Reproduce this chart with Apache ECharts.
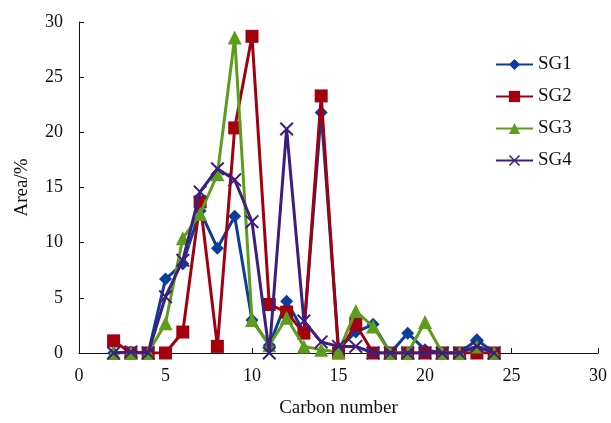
<!DOCTYPE html>
<html><head><meta charset="utf-8">
<script src="https://cdn.jsdelivr.net/npm/echarts@6/dist/echarts.min.js"></script>
<style>html,body{margin:0;padding:0;background:#fff}#c{width:611px;height:423px}</style>
</head><body><div id="c"></div>
<script>
const carbon = [2,3,4,5,6,7,8,9,10,11,12,13,14,15,16,17,18,19,20,21,22,23,24];
const SG1 = [0,0.1,0,6.7,8.1,12.9,9.5,12.4,3.0,0.7,4.7,1.9,21.8,0.4,1.9,2.6,0,1.8,0.3,0,0,1.2,0];
const SG2 = [1.1,0,0,0,1.9,13.7,0.6,20.4,28.7,4.4,3.7,1.8,23.3,0,2.6,0,0,0,0,0,0,0,0];
const SG3 = [0,0,0,2.7,10.4,12.6,16.2,28.6,3.0,0.7,3.2,0.6,0.3,0.1,3.8,2.4,0,0,2.8,0,0,0.6,0];
const SG4 = [0,0.1,0,5.1,8.4,14.6,16.7,15.7,11.9,0,20.3,2.9,1.0,0.6,0.6,0,0,0,0,0,0,0.6,0];
const names = ['SG1','SG2','SG3','SG4'];
const values = [SG1,SG2,SG3,SG4];
const colors = ['#0b3d9c','#a3000f','#5c9e1c','#3c1f7c'];
const xPath = 'path://M0,1L1,0L5,4L9,0L10,1L6,5L10,9L9,10L5,6L1,10L0,9L4,5Z';
const symbols = ['diamond','rect','triangle',xPath];
const sizes = [13,13,14,14];
const font = 'Liberation Serif';
const chart = echarts.init(document.getElementById('c'));
chart.setOption({
  animation:false,
  backgroundColor:'#fff',
  textStyle:{fontFamily:font},
  grid:{left:79,right:13,top:22,bottom:64},
  legend:{
    orient:'vertical', left:490, top:50, itemGap:13, itemWidth:37, itemHeight:14,
    textStyle:{fontFamily:font,fontSize:19,color:'#111'},
    data:names
  },
  xAxis:{
    type:'value', min:0, max:30, interval:5,
    name:'Carbon number', nameLocation:'middle', nameGap:46,
    nameTextStyle:{fontFamily:font,fontSize:19,color:'#111'},
    axisLine:{lineStyle:{color:'#111',width:1}},
    axisTick:{inside:true,length:5,lineStyle:{color:'#111'}},
    axisLabel:{fontFamily:font,fontSize:18,color:'#111',margin:14},
    splitLine:{show:false}
  },
  yAxis:{
    type:'value', min:0, max:30, interval:5,
    name:'Area/%', nameLocation:'middle', nameGap:47,
    nameTextStyle:{fontFamily:font,fontSize:19,color:'#111'},
    axisLine:{show:true,lineStyle:{color:'#111',width:1}},
    axisTick:{show:true,inside:true,length:5,lineStyle:{color:'#111'}},
    axisLabel:{fontFamily:font,fontSize:18,color:'#111',margin:16},
    splitLine:{show:false}
  },
  series: names.map((n,i)=>({
    name:n, type:'line',
    data: carbon.map((c,j)=>[c, values[i][j]]),
    symbol:symbols[i], symbolSize:sizes[i],
    lineStyle:{color:colors[i],width:3},
    itemStyle:{color:colors[i]},
    z: 2+i
  }))
});
</script></body></html>
